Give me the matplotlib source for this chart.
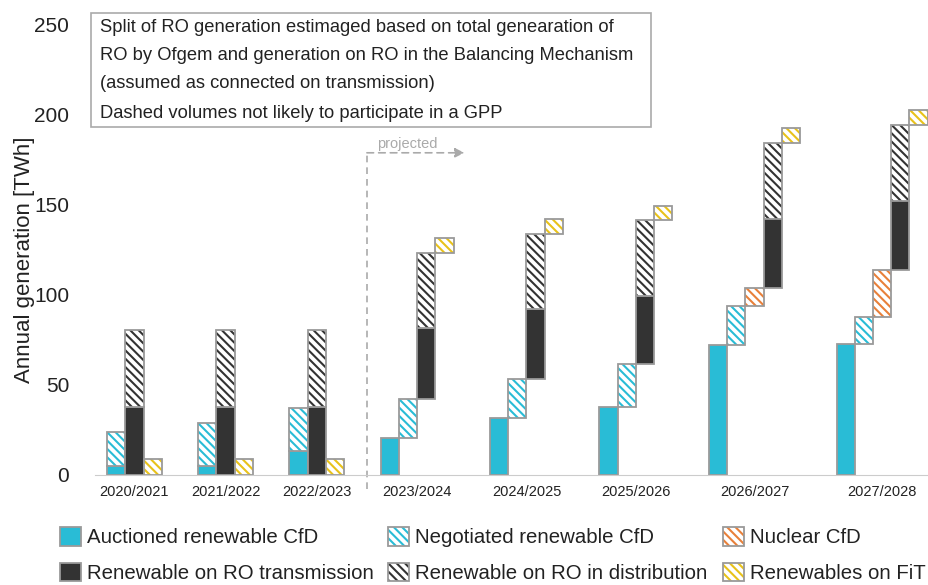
import matplotlib.pyplot as plt
from matplotlib.patches import Patch, Rectangle
from matplotlib.legend_handler import HandlerTuple

plt.rcParams['font.family'] = ['Liberation Sans', 'DejaVu Sans']
plt.rcParams['hatch.linewidth'] = 1.5

years = ["2020/2021", "2021/2022", "2022/2023", "2023/2024", "2024/2025",
         "2025/2026", "2026/2027", "2027/2028"]
projected = [False, False, False, True, True, True, True, True]

# TWh per year
auctioned = [5, 5, 13.5, 20.5, 31.5, 38, 72, 73]
negotiated = [19, 24, 23.5, 22, 22, 23.5, 22, 15]
nuclear = [0, 0, 0, 0, 0, 0, 10, 26]
ro_trans = [38, 38, 38, 39, 39, 38, 38.5, 38.5]
ro_dist = [42.5, 42.5, 42.5, 42, 41.5, 42, 42, 42]
fit = [9, 9, 9, 8, 8, 8, 8, 8]

C_AUC = "#29bcd6"
C_NUC = "#e8803a"
C_DARK = "#333333"
C_FIT = "#e8c21a"
EDGE = "#9a9a9a"
GREY = "#aaaaaa"
HATCH = '\\\\\\\\'


def draw_bar(ax, x, bottom, height, color, hatched):
    if hatched:
        ax.bar(x, height, 1, bottom=bottom, align='edge', facecolor='white',
               edgecolor=color, hatch=HATCH, linewidth=0)
        ax.bar(x, height, 1, bottom=bottom, align='edge', facecolor='none',
               edgecolor=EDGE, linewidth=1.3)
    else:
        ax.bar(x, height, 1, bottom=bottom, align='edge', facecolor=color,
               edgecolor=EDGE, linewidth=1.3)


fig = plt.figure(figsize=(9.29, 5.85), dpi=100)
ax = fig.add_axes([95 / 929, 110 / 585, 834 / 929, 450 / 585])

slot = 0
centers = []
for i, yr in enumerate(years):
    start = slot
    if not projected[i]:
        draw_bar(ax, slot, 0, auctioned[i], C_AUC, False)
        draw_bar(ax, slot, auctioned[i], negotiated[i], C_AUC, True)
        slot += 1
        draw_bar(ax, slot, 0, ro_trans[i], C_DARK, False)
        draw_bar(ax, slot, ro_trans[i], ro_dist[i], C_DARK, True)
        slot += 1
        draw_bar(ax, slot, 0, fit[i], C_FIT, True)
        slot += 1
    else:
        base = 0
        draw_bar(ax, slot, base, auctioned[i], C_AUC, False)
        base += auctioned[i]
        slot += 1
        draw_bar(ax, slot, base, negotiated[i], C_AUC, True)
        base += negotiated[i]
        slot += 1
        if nuclear[i] > 0:
            draw_bar(ax, slot, base, nuclear[i], C_NUC, True)
            base += nuclear[i]
            slot += 1
        draw_bar(ax, slot, base, ro_trans[i], C_DARK, False)
        draw_bar(ax, slot, base + ro_trans[i], ro_dist[i], C_DARK, True)
        base += ro_trans[i] + ro_dist[i]
        slot += 1
        draw_bar(ax, slot, base, fit[i], C_FIT, True)
        slot += 1
    centers.append((start + slot) / 2)
    slot += 2

ax.set_xlim(-0.66, 45.07)
ax.set_ylim(0, 250)
ax.set_yticks([0, 50, 100, 150, 200, 250])
ax.set_xticks(centers)
ax.set_xticklabels(years, fontsize=10.5, color="#222222")
ax.tick_params(axis='y', length=0, labelsize=15, colors="#222222", pad=18.5)
ax.tick_params(axis='x', length=0, pad=7)
for s in ['top', 'right', 'left']:
    ax.spines[s].set_visible(False)
ax.spines['bottom'].set_color("#cccccc")
ax.set_ylabel("Annual generation [TWh]", fontsize=16, color="#222222")
ax.yaxis.set_label_coords(-0.072, 0.478)

# projected marker
ax.plot([14.25, 14.25], [-8, 179], ls=(0, (4, 3)), color=GREY, lw=1.2, clip_on=False)
ax.annotate("", xy=(19.6, 179), xytext=(14.25, 179),
            arrowprops=dict(arrowstyle='-|>', color=GREY, lw=1.2, ls=(0, (4, 3)),
                            mutation_scale=14, shrinkA=0, shrinkB=0))
ax.text(14.8, 184, "projected", color=GREY, fontsize=10.5, va='center')

# note box
fig.patches.append(Rectangle((91 / 929, 1 - 127 / 585), 560 / 929, 114 / 585,
                             transform=fig.transFigure, facecolor='white',
                             edgecolor=GREY, lw=1.2, zorder=5))
notes = [("Split of RO generation estimaged based on total genearation of", 27),
         ("RO by Ofgem and generation on RO in the Balancing Mechanism", 56),
         ("(assumed as connected on transmission)", 84),
         ("Dashed volumes not likely to participate in a GPP", 114)]
for txt, ypx in notes:
    fig.text(100 / 929, 1 - ypx / 585, txt, fontsize=13.2, color="#222222",
             va='center', zorder=6)


def handle(color, hatched):
    if hatched:
        return (Patch(facecolor='white', edgecolor=color, hatch=HATCH, lw=0),
                Patch(facecolor='none', edgecolor=EDGE, lw=1.3))
    return Patch(facecolor=color, edgecolor=EDGE, lw=1.3)


# legend, one column at a time
leg_cols = [
    ([handle(C_AUC, False), handle(C_DARK, False)],
     ["Auctioned renewable CfD", "Renewable on RO transmission"], 60),
    ([handle(C_AUC, True), handle(C_DARK, True)],
     ["Negotiated renewable CfD", "Renewable on RO in distribution"], 388),
    ([handle(C_NUC, True), handle(C_FIT, True)],
     ["Nuclear CfD", "Renewables on FiT"], 723),
]
for hs, ls, xpx in leg_cols:
    leg = fig.legend(hs, ls, loc='upper left', bbox_to_anchor=(xpx / 929, 1 - 527 / 585),
                     frameon=False, fontsize=14.7, handlelength=1.03, handleheight=1.03,
                     handletextpad=0.3, labelspacing=0.75, borderpad=0, borderaxespad=0,
                     handler_map={tuple: HandlerTuple(ndivide=1, pad=0)})
    for t in leg.get_texts():
        t.set_color("#222222")

fig.savefig("out.png", dpi=100)
